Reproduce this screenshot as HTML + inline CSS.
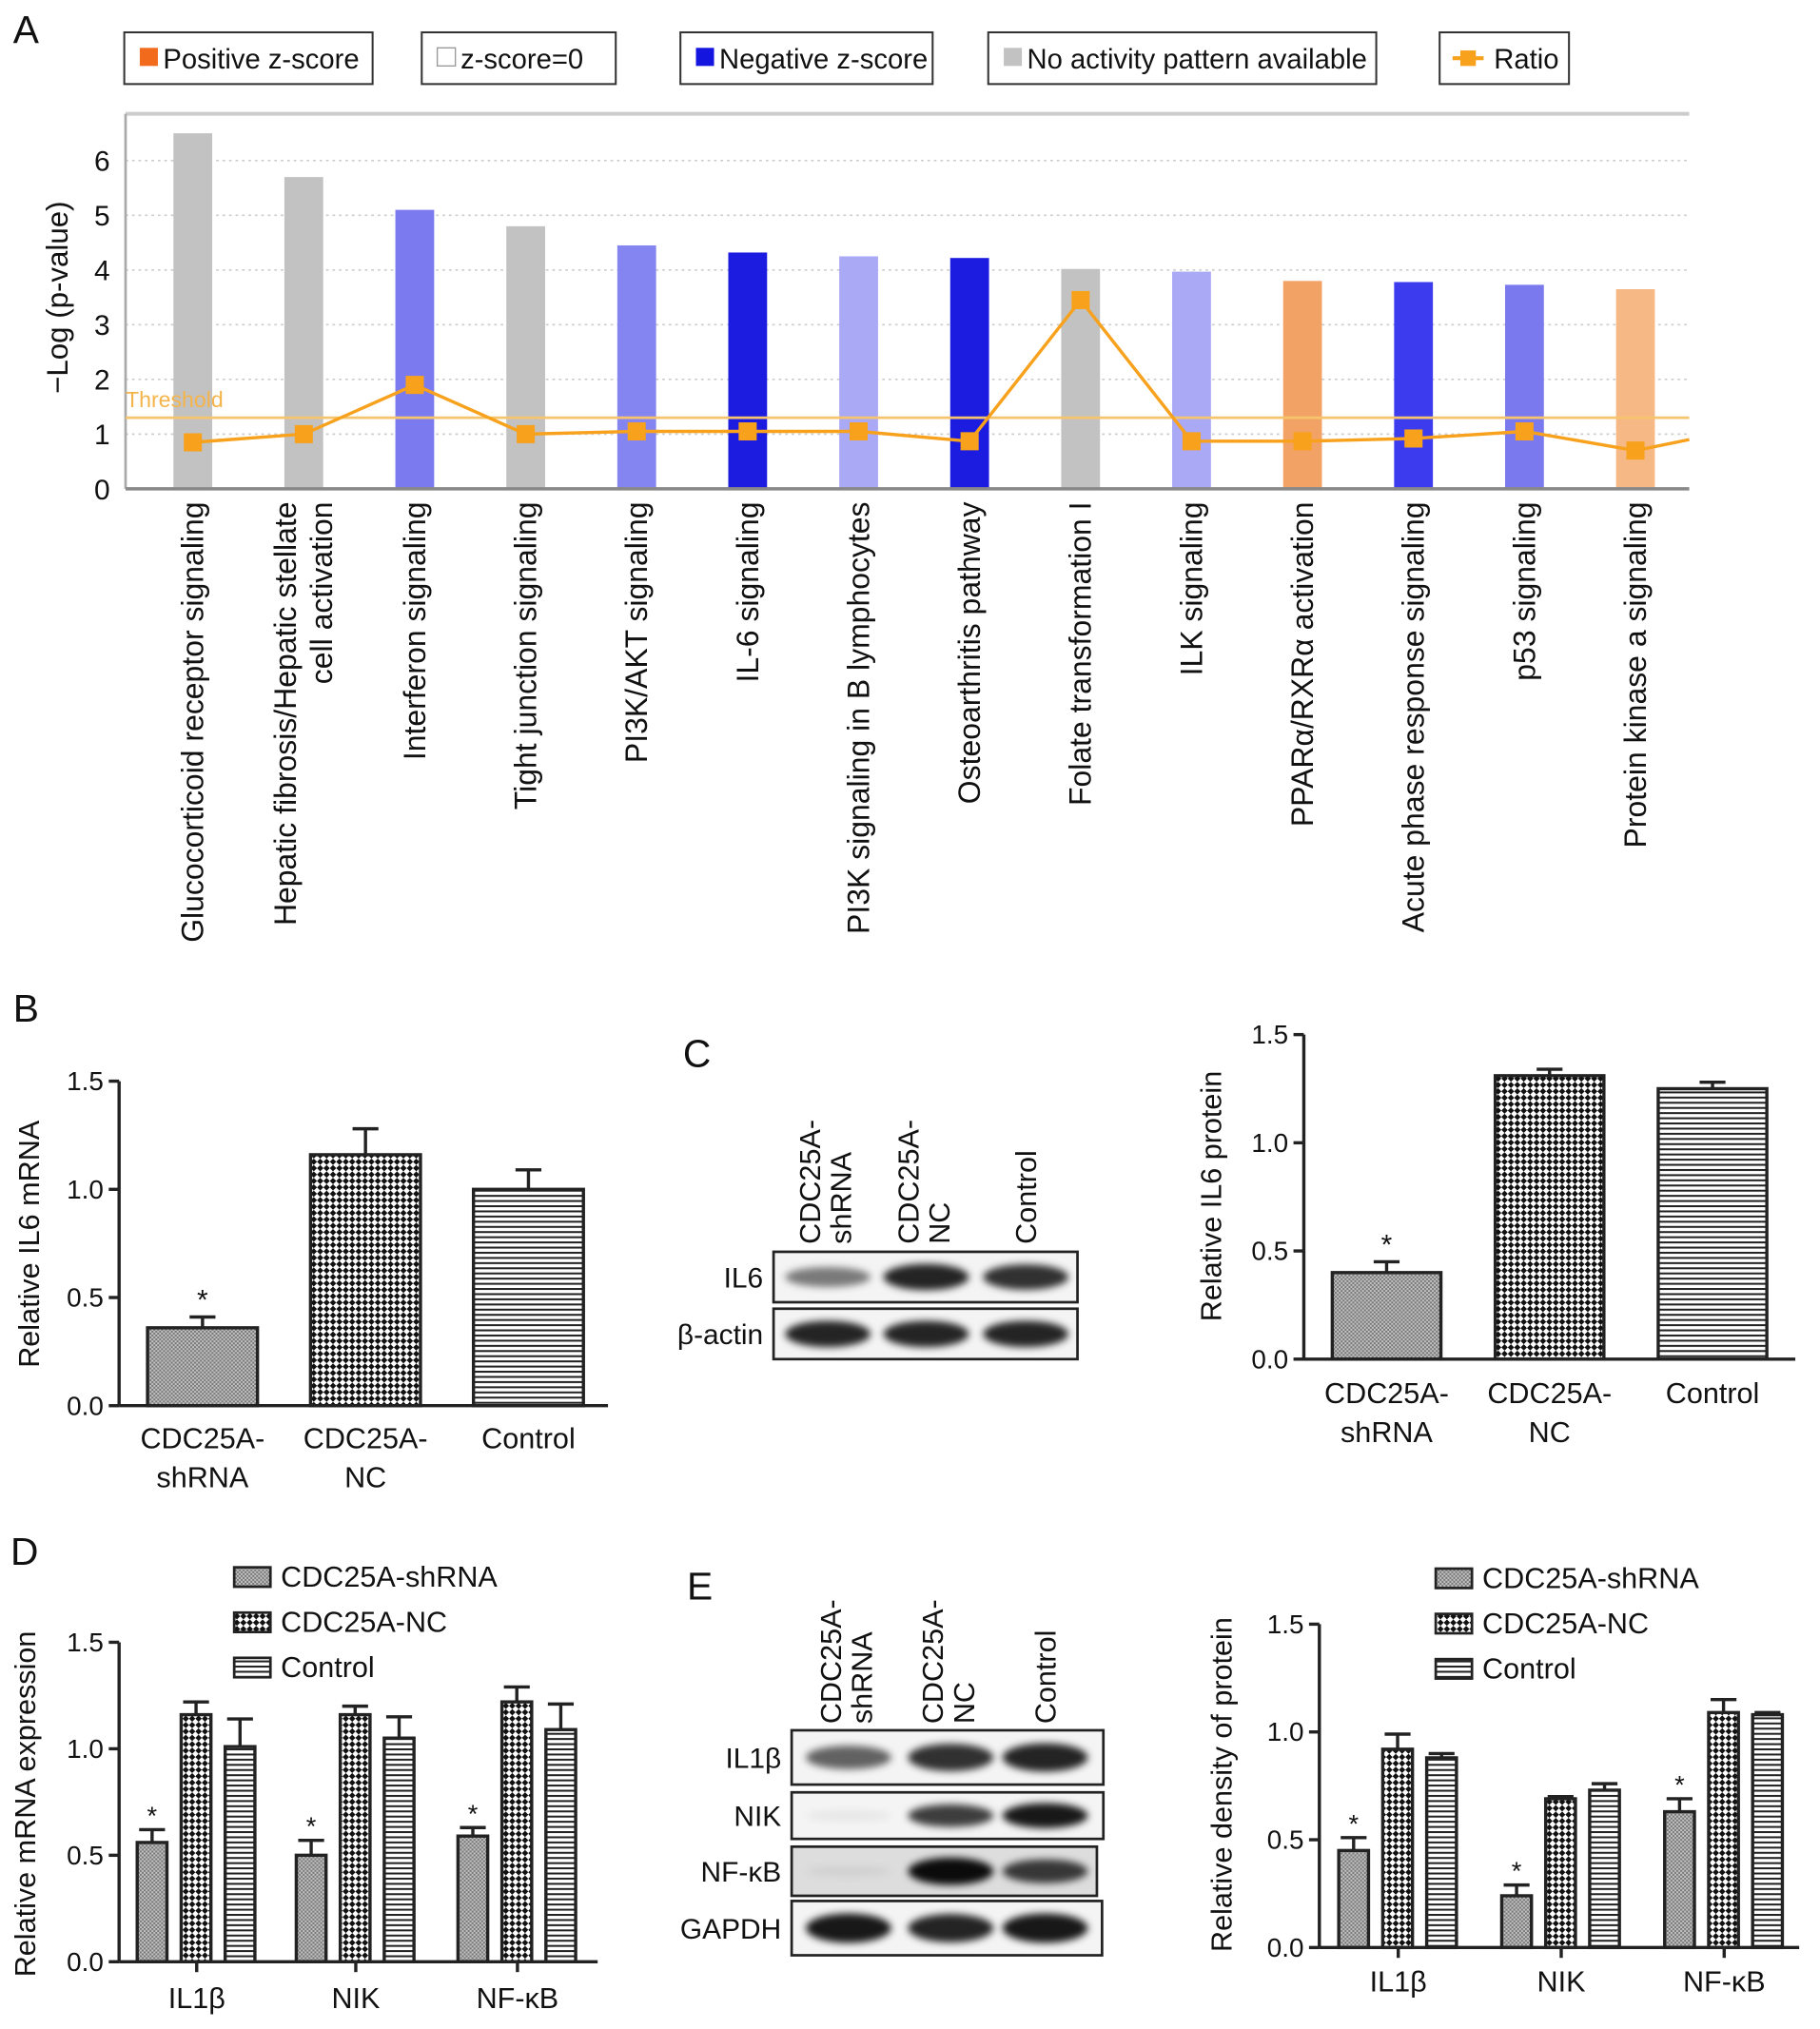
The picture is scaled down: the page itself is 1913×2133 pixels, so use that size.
<!DOCTYPE html>
<html><head><meta charset="utf-8">
<style>
html,body{margin:0;padding:0;background:#fff;}
svg{display:block;font-family:"Liberation Sans",Arial,sans-serif;}
</style></head>
<body>
<svg id="fig" width="1913" height="2133" viewBox="0 0 1407 1569" xmlns="http://www.w3.org/2000/svg">
<defs>
<pattern id="pS" width="3" height="3" patternUnits="userSpaceOnUse"><rect width="3" height="3" fill="#c4c4c4"/><rect width="1.5" height="1.5" fill="#777"/><rect x="1.5" y="1.5" width="1.5" height="1.5" fill="#777"/></pattern>
<pattern id="pN" width="7" height="7" patternUnits="userSpaceOnUse" patternTransform="rotate(45)"><rect width="7" height="7" fill="#fff"/><rect width="3.5" height="3.5" fill="#111"/><rect x="3.5" y="3.5" width="3.5" height="3.5" fill="#111"/></pattern>
<pattern id="pC" width="4" height="4" patternUnits="userSpaceOnUse"><rect width="4" height="4" fill="#fff"/><rect width="4" height="1.5" fill="#222"/></pattern>
<filter id="blur" x="-20%" y="-60%" width="140%" height="220%"><feGaussianBlur stdDeviation="3"/></filter>
</defs>
</svg>
<script>
// ---------- Panel A data ----------
const aCats=["Glucocorticoid receptor signaling","Hepatic fibrosis/Hepatic stellate|cell activation","Interferon signaling","Tight junction signaling","PI3K/AKT signaling","IL-6 signaling","PI3K signaling in B lymphocytes","Osteoarthritis pathway","Folate transformation I","ILK signaling","PPARα/RXRα activation","Acute phase response signaling","p53 signaling","Protein kinase a signaling"];
const aVals=[6.5,5.7,5.1,4.8,4.45,4.32,4.25,4.22,4.02,3.97,3.8,3.78,3.73,3.65];
const aColors=["#c2c2c2","#c2c2c2","#7b7bef","#c2c2c2","#8585f1","#1c1ce0","#a9a9f6","#1c1ce0","#c2c2c2","#a9a9f6","#f3a266","#3c3cee","#7a7aee","#f6b985"];
const aRatio=[0.85,1.0,1.9,1.0,1.05,1.05,1.05,0.87,3.45,0.87,0.87,0.92,1.05,0.7];
const aRatioTail=0.9;
const aTicks=[0,1,2,3,4,5,6];
const aThreshold=1.3;
// ---------- Panel B ----------
const bCats=["CDC25A-|shRNA","CDC25A-|NC","Control"];
const bVals=[0.36,1.16,1.0];
const bErr=[0.05,0.12,0.09];
const bTicks=["0.0","0.5","1.0","1.5"];
// ---------- Panel C ----------
const cCats=["CDC25A-|shRNA","CDC25A-|NC","Control"];
const cVals=[0.40,1.31,1.25];
const cErr=[0.05,0.03,0.03];
const cTicks=["0.0","0.5","1.0","1.5"];
const cBlotRows=["IL6","β-actin"];
const cBlotInt=[[0.5,0.85,0.8],[0.85,0.85,0.85]];
// ---------- Panel D ----------
const dGroups=["IL1β","NIK","NF-κB"];
const dSeries=["CDC25A-shRNA","CDC25A-NC","Control"];
const dShrna=[0.56,0.50,0.59];
const dNC=[1.16,1.16,1.22];
const dCtrl=[1.01,1.05,1.09];
const dErrShrna=[0.06,0.07,0.04];
const dErrNC=[0.06,0.04,0.07];
const dErrCtrl=[0.13,0.10,0.12];
const dTicks=["0.0","0.5","1.0","1.5"];
// ---------- Panel E ----------
const eGroups=["IL1β","NIK","NF-κB"];
const eShrna=[0.45,0.24,0.63];
const eNC=[0.92,0.69,1.09];
const eCtrl=[0.88,0.73,1.08];
const eErrShrna=[0.06,0.05,0.06];
const eErrNC=[0.07,0.01,0.06];
const eErrCtrl=[0.02,0.03,0.01];
const eTicks=["0.0","0.5","1.0","1.5"];
const eBlotRows=["IL1β","NIK","NF-κB","GAPDH"];
const eBlotInt=[[0.6,0.8,0.85],[0.05,0.75,0.9],[0.05,0.95,0.75],[0.9,0.85,0.9]];

const NS="http://www.w3.org/2000/svg";
const svg=document.getElementById('fig');
function mk(tag,attrs,name,parent){
  const el=document.createElementNS(NS,tag);
  for(const k in attrs) el.setAttribute(k,attrs[k]);
  
  
  (parent||svg).appendChild(el);
  return el;
}
function txt(x,y,s,size,name,extra){
  const a=Object.assign({x:x,y:y,'font-size':size,fill:'#111'},extra||{});
  const t=mk('text',a,name);
  t.textContent=s;
  return t;
}
const PAT=['url(#pS)','url(#pN)','url(#pC)'];

// ===== Panel A =====
txt(10,33,"A",30,"panel-a-label");
const legA=[[96,288,"Positive z-score","#f26b1d"],[326,476,"z-score=0","#fff"],[526,721,"Negative z-score","#1515e0"],[764,1064,"No activity pattern available","#c2c2c2"],[1113,1213,"Ratio","ratio"]];
legA.forEach((l,i)=>{
  mk('rect',{x:l[0],y:25,width:l[1]-l[0],height:40,fill:'#fff',stroke:'#333','stroke-width':1.5},'legend-box');
  if(l[3]==='ratio'){
    mk('line',{x1:l[0]+10,x2:l[0]+34,y1:45,y2:45,stroke:'#f7a11c','stroke-width':3},'legend-ratio-line');
    mk('rect',{x:l[0]+16,y:39,width:12,height:12,fill:'#f7a11c'},'legend-ratio-marker');
    txt(l[0]+42,53,l[2],21.5,'legend-entry');
  } else {
    mk('rect',{x:l[0]+12,y:37,width:14,height:14,fill:l[3],stroke:l[3]==='#fff'?'#999':'none'},'legend-swatch');
    txt(l[0]+30,53,l[2],21.5,'legend-entry');
  }
});
const aX0=97,aX1=1306,aY0=378,aPx=42.3;
const aY=v=>aY0-v*aPx;
const aCx=i=>149+i*85.8;
mk('line',{x1:aX0,x2:aX1,y1:88,y2:88,stroke:'#ccc','stroke-width':3},'plot-top-border');
aTicks.forEach(t=>{
  if(t>0) mk('line',{x1:aX0,x2:aX1,y1:aY(t),y2:aY(t),stroke:'#ccc','stroke-width':1.2,'stroke-dasharray':'2,3'},'gridline');
  txt(85,aY(t)+8,String(t),22,'y-tick-label',{'text-anchor':'end'});
});
aVals.forEach((v,i)=>{
  mk('rect',{x:aCx(i)-15,y:aY(v),width:30,height:aY0-aY(v),fill:aColors[i]},'bar-'+i);
});
mk('line',{x1:aX0,x2:aX0,y1:88,y2:aY0,stroke:'#aaa','stroke-width':2},'y-axis');
mk('line',{x1:aX0,x2:aX1,y1:aY0,y2:aY0,stroke:'#888','stroke-width':2.5},'x-axis');
mk('line',{x1:aX0,x2:aX1,y1:aY(aThreshold),y2:aY(aThreshold),stroke:'#f7c46e','stroke-width':2},'threshold-line');
txt(97,315,"Threshold",17,'threshold-label',{fill:'#f5b44a'});
let pts=aRatio.map((r,i)=>aCx(i)+','+aY(r)).join(' ')+' '+aX1+','+aY(aRatioTail);
mk('polyline',{points:pts,fill:'none',stroke:'#f7a11c','stroke-width':2.5},'ratio-line');
aRatio.forEach((r,i)=>mk('rect',{x:aCx(i)-7,y:aY(r)-7,width:14,height:14,fill:'#f7a11c'},'ratio-point'));
txt(0,0,"−Log (p-value)",23,'y-axis-title',{transform:'translate(52,230) rotate(-90)','text-anchor':'middle'});
aCats.forEach((c,i)=>{
  const parts=c.split('|');
  parts.forEach((p,j)=>{
    const x=aCx(i)+(parts.length>1?(j===0?-6:22):8);
    txt(x,388,p,23.5,'x-tick-label',{transform:`rotate(-90 ${x} 388)`,'text-anchor':'end'});
  });
});

// ===== generic helpers =====
function yAxis(x,y0,px,ticks,name){
  mk('line',{x1:x,x2:x,y1:y0-1.5*px,y2:y0,stroke:'#222','stroke-width':2.5},name+'-y-axis');
  ticks.forEach(t=>{
    const y=y0-parseFloat(t)*px;
    mk('line',{x1:x-8,x2:x,y1:y,y2:y,stroke:'#222','stroke-width':2.5},name+'-y-tick');
    txt(x-12,y+7,t,20.5,name+'-y-tick-label',{'text-anchor':'end'});
  });
}
function errBar(cx,top,e,px,name){
  const yt=top-e*px;
  mk('line',{x1:cx,x2:cx,y1:top,y2:yt,stroke:'#222','stroke-width':2.5},name);
  mk('line',{x1:cx-10,x2:cx+10,y1:yt,y2:yt,stroke:'#222','stroke-width':2.5},name+'-cap');
}
function barsSimple(p){
  yAxis(p.x,p.y0,p.px,p.ticks,p.name);
  p.vals.forEach((v,i)=>{
    const x=p.bx[i],top=p.y0-v*p.px;
    errBar(x+p.bw/2,top,p.err[i],p.px,p.name+'-error-bar');
    mk('rect',{x:x,y:top,width:p.bw,height:v*p.px,fill:PAT[i],stroke:'#222','stroke-width':2.5},p.name+'-bar-'+i);
    if(i===0) txt(x+p.bw/2,top-p.err[i]*p.px-6,"*",22,p.name+'-significance',{'text-anchor':'middle'});
    p.cats[i].split('|').forEach((s,j)=>txt(x+p.bw/2,p.ly+j*30,s,22.5,p.name+'-x-tick-label',{'text-anchor':'middle'}));
  });
  mk('line',{x1:p.x,x2:p.xe,y1:p.y0,y2:p.y0,stroke:'#222','stroke-width':2.5},p.name+'-x-axis');
  txt(0,0,p.title,22.5,p.name+'-y-axis-title',{transform:`translate(${p.tx},${p.ty}) rotate(-90)`,'text-anchor':'middle'});
}
function barsGrouped(p){
  yAxis(p.x,p.y0,p.px,p.ticks,p.name);
  const series=[p.s0,p.s1,p.s2],errs=[p.e0,p.e1,p.e2];
  p.groups.forEach((g,gi)=>{
    const gc=p.gx[gi];
    series.forEach((s,si)=>{
      const x=gc-34.5+si*34-11.5,top=p.y0-s[gi]*p.px;
      errBar(x+11.5,top,errs[si][gi],p.px,p.name+'-error-bar');
      mk('rect',{x:x,y:top,width:23,height:s[gi]*p.px,fill:PAT[si],stroke:'#222','stroke-width':2.5},p.name+'-bar');
      if(si===0) txt(x+11.5,top-errs[si][gi]*p.px-4,"*",20,p.name+'-significance',{'text-anchor':'middle'});
    });
    mk('line',{x1:gc,x2:gc,y1:p.y0,y2:p.y0+8,stroke:'#222','stroke-width':2.5},p.name+'-x-tick');
    txt(gc,p.ly,g,22.5,p.name+'-x-tick-label',{'text-anchor':'middle'});
  });
  mk('line',{x1:p.x,x2:p.xe,y1:p.y0,y2:p.y0,stroke:'#222','stroke-width':2.5},p.name+'-x-axis');
  txt(0,0,p.title,22.5,p.name+'-y-axis-title',{transform:`translate(${p.tx},${p.ty}) rotate(-90)`,'text-anchor':'middle'});
  dSeries.forEach((s,i)=>{
    mk('rect',{x:p.lx,y:p.lyy+i*35-12,width:28,height:15,fill:PAT[i],stroke:'#222','stroke-width':2},p.name+'-legend-swatch');
    txt(p.lx+36,p.lyy+i*35+3,s,22.5,p.name+'-legend-entry');
  });
}
function blot(p){
  p.rows.forEach((r,ri)=>{
    const b=p.boxes[ri];
    mk('rect',{x:b[0],y:b[1],width:b[2]-b[0],height:b[3]-b[1],fill:ri===2&&p.name==='e'?'#ddd':'#f4f4f4',stroke:'#222','stroke-width':2},p.name+'-blot-'+ri);
    txt(b[0]-8,(b[1]+b[3])/2+8,r,22,p.name+'-blot-label',{'text-anchor':'end'});
    p.ints[ri].forEach((v,li)=>{
      const cx=p.lanes[li];
      mk('ellipse',{cx:cx,cy:(b[1]+b[3])/2,rx:33,ry:Math.max(3,(b[3]-b[1])*0.18*(0.6+v)),fill:'#000','fill-opacity':v,filter:'url(#blur)'},p.name+'-band');
    });
  });
  p.cols.forEach((c,i)=>{
    const parts=c.split('|');
    parts.forEach((s,j)=>{
      const x=p.lanes[i]+(parts.length>1?(j===0?-6:18):8);
      txt(x,p.cy,s,22.5,p.name+'-lane-label',{transform:`rotate(-90 ${x} ${p.cy})`});
    });
  });
}

// ===== Panel B =====
txt(10,790,"B",30,"panel-b-label");
barsSimple({name:'b',x:92,y0:1087,px:167.3,xe:470,ticks:bTicks,vals:bVals,err:bErr,cats:bCats,bx:[114,240,366],bw:85,ly:1120,title:"Relative IL6 mRNA",tx:30,ty:962});

// ===== Panel C =====
txt(528,825,"C",30,"panel-c-label");
blot({name:'c',rows:cBlotRows,ints:cBlotInt,boxes:[[598,968,833,1007],[598,1012,833,1051]],lanes:[640,716,793],cols:["CDC25A-|shRNA","CDC25A-|NC","Control"],cy:962});
barsSimple({name:'c',x:1008,y0:1051,px:167.3,xe:1388,ticks:cTicks,vals:cVals,err:cErr,cats:cCats,bx:[1030,1156,1282],bw:84,ly:1085,title:"Relative IL6 protein",tx:944,ty:925});

// ===== Panel D =====
txt(8,1210,"D",30,"panel-d-label");
barsGrouped({name:'d',x:92,y0:1517,px:164.7,xe:462,ticks:dTicks,groups:dGroups,s0:dShrna,s1:dNC,s2:dCtrl,e0:dErrShrna,e1:dErrNC,e2:dErrCtrl,gx:[152,275,400],ly:1553,title:"Relative mRNA expression",tx:27,ty:1395,lx:181,lyy:1224});

// ===== Panel E =====
txt(531,1237,"E",30,"panel-e-label");
blot({name:'e',rows:eBlotRows,ints:eBlotInt,boxes:[[612,1338,853,1380],[612,1386,853,1422],[612,1428,848,1466],[612,1470,852,1512]],lanes:[656,735,808],cols:["CDC25A-|shRNA","CDC25A-|NC","Control"],cy:1333});
barsGrouped({name:'e',x:1020,y0:1506,px:166.7,xe:1391,ticks:eTicks,groups:eGroups,s0:eShrna,s1:eNC,s2:eCtrl,e0:eErrShrna,e1:eErrNC,e2:eErrCtrl,gx:[1081,1207,1333],ly:1540,title:"Relative density of protein",tx:952,ty:1380,lx:1110,lyy:1225});
</script>
</body></html>
